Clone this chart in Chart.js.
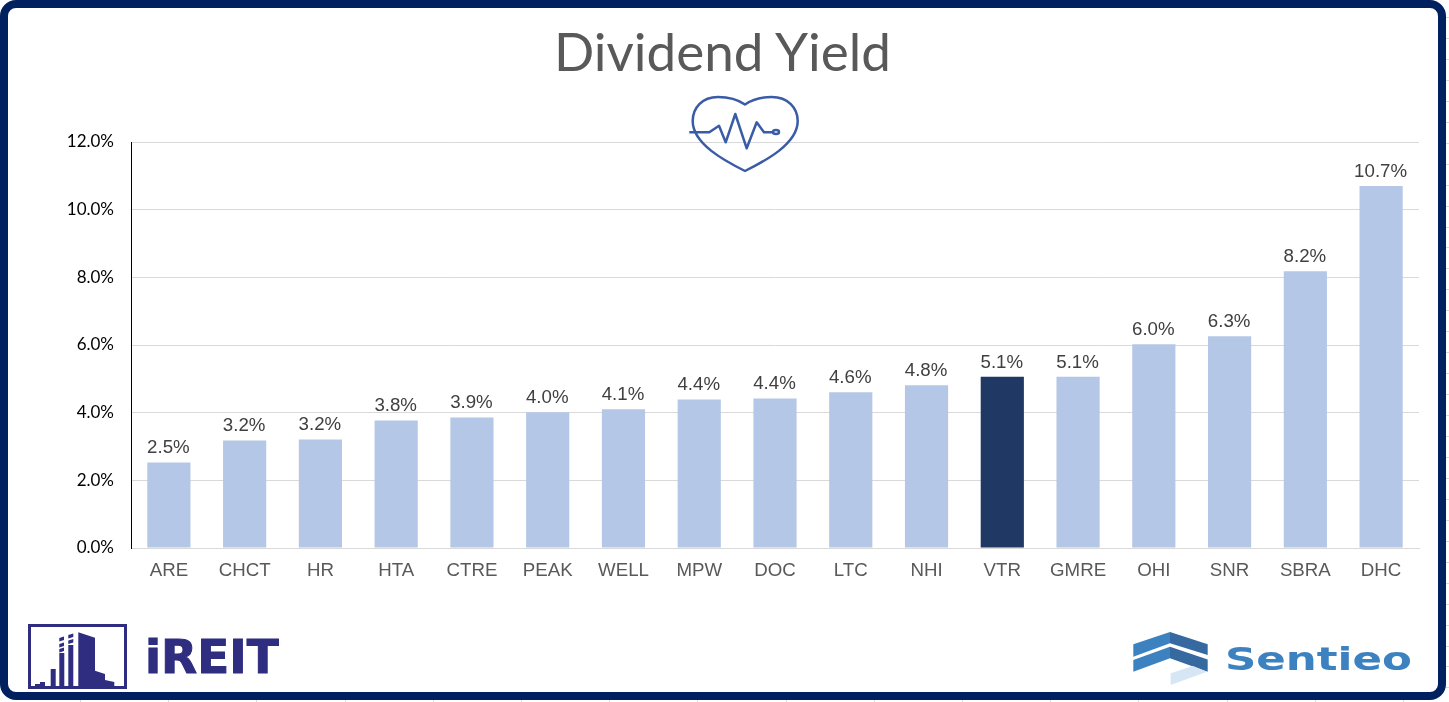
<!DOCTYPE html>
<html>
<head>
<meta charset="utf-8">
<title>Dividend Yield</title>
<script src="https://cdn.jsdelivr.net/npm/chart.js@4/dist/chart.umd.min.js"></script>
<style>
    html, body { margin: 0; padding: 0; background: #fff; overflow: hidden; }
    #page { position: relative; width: 1449px; height: 702px; }
    /* faint ticks of the underlying sheet, just outside the frame */
    #sheet { position: absolute; left: 0; top: 0; width: 1449px; height: 702px;
        background:
            repeating-linear-gradient(to bottom, transparent 0 17px, #d9d9d9 17px 18px, transparent 18px 20.95px) right top / 3px 702px no-repeat,
            repeating-linear-gradient(to right, transparent 0 80px, #d9d9d9 80px 81px, transparent 81px 88.2px) left bottom / 1449px 2px no-repeat; }
    #frame { position: absolute; left: 0; top: 0; width: 1430px; height: 684px;
        border: 8px solid #002060; border-radius: 16px; background: #fff; }
    #chart { position: absolute; left: 0; top: 0; }
    #title { position: absolute; left: 0; top: 17px; width: 1445px; text-align: center;
        font: 53px Lato, sans-serif; color: #595959; line-height: 68px; }
    svg { position: absolute; left: 0; top: 0; }
</style>
</head>
<body>
<div id="page">
    <div id="sheet"></div>
    <div id="frame"></div>
    <canvas id="chart" width="1449" height="702"></canvas>
    <div id="title">Dividend Yield</div>
    <svg width="1449" height="702" viewBox="0 0 1449 702">
        <!-- heart icon -->
        <g fill="none" stroke="#3a5ba6" stroke-width="2.5" stroke-linejoin="round">
            <path d="M745 104.5C737 99 727 97 718 97C702 97 692.7 108 692.7 121C692.7 144 725 161 745 171C765 161 797.7 144 797.7 121C797.7 108 788 97 771.7 97C763 97 753 99 745 104.5Z"/>
            <path d="M689.3 132.3H709.3L719 125.7L725.7 142.3L735.3 114L746.7 148.3L756.7 122.3L764 132.3H772.7"/>
            <ellipse cx="776" cy="132" rx="3" ry="2"/>
        </g>
        <!-- iREIT logo -->
        <g fill="#2e2d7f">
            <rect x="29.5" y="625.5" width="96" height="62" fill="none" stroke="#2e2d7f" stroke-width="3"/>
            <path d="M78.3 632.3L95 637.7V670.7L105 674V680L114.3 682V686H122V688H78.3Z"/>
            <rect x="68.3" y="645" width="5" height="43"/>
            <rect x="59.3" y="653" width="5" height="35"/>
            <rect x="50.7" y="669" width="5" height="19"/>
            <path d="M35 684H40V682H45V688H35Z"/>
            <path d="M59.3 638L64 636.5V640L59.3 641.5ZM59.3 644L64 642.5V646L59.3 647.5ZM59.3 649L64 647.5V651L59.3 652.5ZM68.3 635L73.3 633.5V637L68.3 638.5ZM68.3 640.5L73.3 639V642.5L68.3 644Z"/>
            <text transform="translate(145,673) scale(1.02,1)" stroke="#2e2d7f" stroke-width="1" font-family="DejaVu Sans" font-weight="bold" font-size="46">iREIT</text>
        </g>
        <!-- Sentieo logo -->
        <path d="M1133.3 644.3L1170 632V643.3L1133.3 656.7Z" fill="#3d82c0"/>
        <path d="M1133.3 660L1170 646.7V658.3L1133.3 671.7Z" fill="#3d82c0"/>
        <path d="M1170 632L1207.7 644.3V655L1170 643.3Z" fill="#36699f"/>
        <path d="M1170 646.7L1207.7 659.5V671.7L1170 658.3Z" fill="#36699f"/>
        <path d="M1170.7 673.3L1193 666L1207 671.7L1170.7 685Z" fill="#d6e6f5"/>
        <text transform="translate(1225,670) scale(1.36,1)" fill="#3d82c0" font-family="DejaVu Sans" font-weight="bold" font-size="32">Sentieo</text>
    </svg>
</div>
<script>
const tickers = ['ARE', 'CHCT', 'HR', 'HTA', 'CTRE', 'PEAK', 'WELL', 'MPW', 'DOC', 'LTC', 'NHI', 'VTR', 'GMRE', 'OHI', 'SNR', 'SBRA', 'DHC'];
const yields = [2.53, 3.18, 3.21, 3.77, 3.86, 4.01, 4.1, 4.39, 4.42, 4.6, 4.81, 5.06, 5.06, 6.02, 6.26, 8.18, 10.7];
const highlightTicker = 'VTR';

// value labels above the bars
const barLabels = {
    id: 'barLabels',
    afterDatasetsDraw(chart) {
        const ctx = chart.ctx;
        ctx.save();
        ctx.font = '18.7px "Liberation Sans"';
        ctx.fillStyle = '#404040';
        ctx.textAlign = 'center';
        ctx.textBaseline = 'alphabetic';
        chart.getDatasetMeta(0).data.forEach((bar, i) => {
            ctx.fillText(yields[i].toFixed(1) + '%', bar.x - 0.5, bar.y - 9);
        });
        ctx.restore();
    }
};

new Chart(document.getElementById('chart'), {
    type: 'bar',
    data: {
        labels: tickers,
        datasets: [{
            data: yields,
            backgroundColor: tickers.map(t => t === highlightTicker ? '#1f3864' : '#b4c7e7'),
            categoryPercentage: 1,
            barPercentage: 0.57
        }]
    },
    options: {
        responsive: false,
        animation: false,
        layout: { padding: { left: 0, right: 30, top: 142, bottom: 0 } },
        plugins: { legend: { display: false }, tooltip: { enabled: false } },
        scales: {
            x: {
                afterFit: scale => { scale.height = 154; },
                grid: { display: false },
                border: { color: '#d9d9d9', width: 1 },
                ticks: { color: '#595959', font: { family: '"Liberation Sans"', size: 18.7 }, padding: 4, maxRotation: 0, autoSkip: false }
            },
            y: {
                min: 0,
                max: 12,
                afterFit: scale => { scale.width = 131; },
                grid: { color: '#d9d9d9', drawTicks: false },
                border: { color: '#000000', width: 1 },
                ticks: {
                    stepSize: 2,
                    color: '#000000',
                    font: { family: 'Lato', size: 17 },
                    padding: 17,
                    callback: v => v.toFixed(1) + '%'
                }
            }
        }
    },
    plugins: [barLabels]
});
</script>
</body>
</html>
